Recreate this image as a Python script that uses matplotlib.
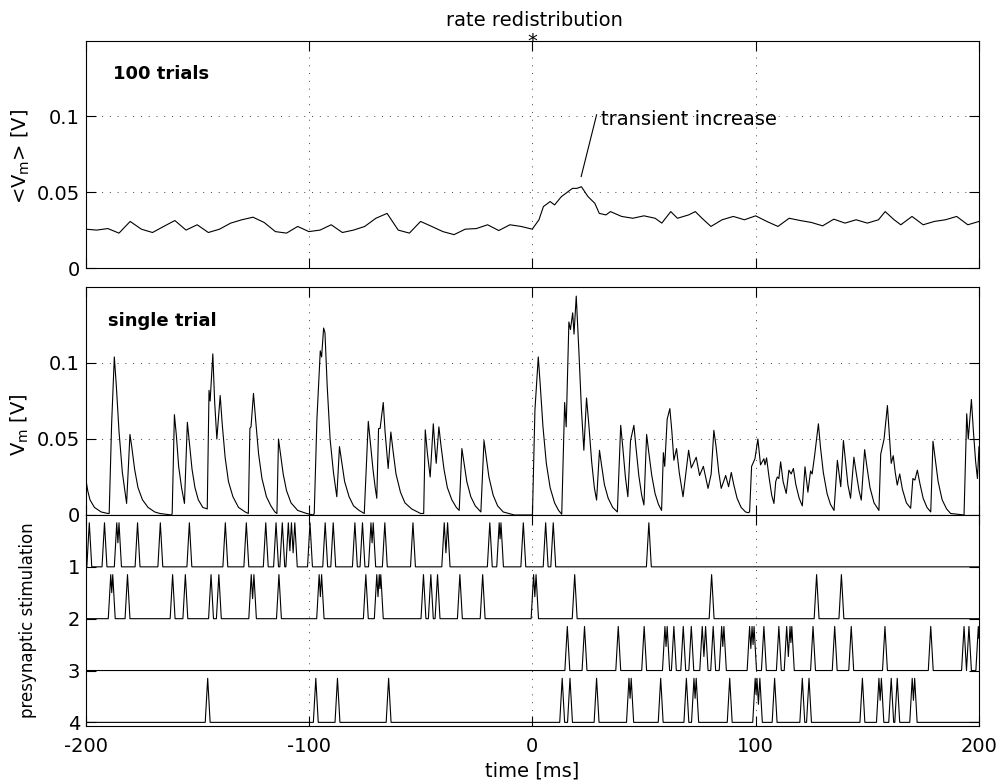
import numpy as np
import matplotlib
matplotlib.use('Agg')
import matplotlib.pyplot as plt

plt.rcParams['font.family'] = ['DejaVu Sans']
plt.rcParams['axes.unicode_minus'] = False

# ---------------- data ----------------
# 100-trial average membrane potential (time [ms], value [V])
avg_t = [-200, -195, -190, -185, -180, -175, -170, -165, -160, -155,
         -150, -145, -140, -135, -130, -125, -120, -115, -110, -105,
         -100, -95, -90, -85, -80, -75, -70, -65, -60, -55,
         -50, -45, -40, -35, -30, -25, -20, -15, -10, -5,
         0, 3, 5, 8, 10, 13, 15, 18, 20, 22, 25, 28, 30, 33, 35,
         40, 45, 50, 55,
         58, 62, 65, 70, 73, 76, 80,
         85, 90, 95, 100, 105, 110, 115, 120, 125, 130, 135, 140, 145, 150, 155,
         158, 162, 165,
         170, 175, 180, 185, 190, 195, 200]
avg_v = [0.0256, 0.025, 0.026, 0.023, 0.0307, 0.0256, 0.0234, 0.0274, 0.0313, 0.025,
         0.0285, 0.0234, 0.0256, 0.0296, 0.0318, 0.0335, 0.030, 0.024, 0.023, 0.0274,
         0.024, 0.025, 0.0285, 0.0234, 0.025, 0.0274, 0.0328, 0.036, 0.025, 0.023,
         0.0307, 0.0274, 0.024, 0.022, 0.0256, 0.026, 0.0285, 0.0247, 0.0285, 0.0274,
         0.0256, 0.0318, 0.0405, 0.0438, 0.0416, 0.047, 0.0492, 0.0525, 0.0525, 0.0536,
         0.047, 0.0427, 0.036, 0.035, 0.0372,
         0.034, 0.0328, 0.0344, 0.0328,
         0.0296, 0.0372, 0.0328, 0.035, 0.0372, 0.0328, 0.0274,
         0.0318, 0.034, 0.0318, 0.0344, 0.0307, 0.0274, 0.0328, 0.0313, 0.030, 0.0278,
         0.0322, 0.0296, 0.0318, 0.0296, 0.0318,
         0.0372, 0.0318, 0.0285,
         0.034, 0.0285, 0.0307, 0.0318, 0.034, 0.0285, 0.0307]

# single trial membrane potential, vertices (time [ms], value [V])
single_trial = [
    (-200, 0.025), (-199, 0.016), (-198, 0.010), (-196, 0.005), (-193, 0.002), (-190, 0.001),
    (-189.4, 0.001), (-188.3, 0.06), (-187.1, 0.104), (-186.2, 0.085), (-185, 0.055),
    (-183.5, 0.028), (-182.3, 0.015), (-181.6, 0.0076),
    (-180.1, 0.053), (-179.3, 0.045), (-178, 0.030), (-176.5, 0.018), (-174.5, 0.010),
    (-172, 0.005), (-169, 0.002), (-166.7, 0.001), (-161.5, 0.0),
    (-161.2, 0.001), (-160.2, 0.066), (-159.3, 0.052), (-158.3, 0.032), (-157, 0.018), (-155.7, 0.0076),
    (-154.4, 0.061), (-153.5, 0.048), (-152.3, 0.030), (-151, 0.018), (-149.5, 0.010),
    (-147.5, 0.005), (-145.5, 0.004),
    (-144.7, 0.082), (-144.2, 0.075), (-143, 0.106), (-142.2, 0.075), (-141.2, 0.050),
    (-139.7, 0.0786), (-138.8, 0.060), (-137.5, 0.038), (-136, 0.022), (-134, 0.012),
    (-131.5, 0.005), (-128.5, 0.002), (-127.1, 0.001),
    (-126.4, 0.057), (-125.9, 0.058), (-124.8, 0.080), (-123.8, 0.062), (-122.5, 0.040),
    (-121, 0.024), (-119, 0.012), (-117, 0.006), (-115.2, 0.002), (-114.3, 0.001),
    (-113.6, 0.050), (-112.7, 0.040), (-111.5, 0.027), (-110, 0.016), (-108, 0.008),
    (-105, 0.003), (-101, 0.001), (-98, 0.0),
    (-97.6, 0.001), (-96.4, 0.063), (-94.9, 0.108), (-94.3, 0.104), (-93.4, 0.123),
    (-92.8, 0.120), (-91.8, 0.085), (-90.5, 0.050), (-89, 0.028), (-87.5, 0.012),
    (-86.3, 0.045), (-85.3, 0.035), (-84, 0.022), (-82, 0.012), (-80, 0.006),
    (-77.5, 0.003), (-75.2, 0.001),
    (-73.4, 0.0616), (-72.5, 0.048), (-71.3, 0.030), (-70.3, 0.018), (-69.6, 0.011),
    (-68.8, 0.0568), (-68.1, 0.057), (-66.7, 0.074), (-65.9, 0.055), (-64.5, 0.0306),
    (-63.3, 0.0546), (-62.3, 0.042), (-61, 0.027), (-59, 0.015), (-57, 0.008),
    (-54, 0.004), (-50, 0.001), (-48.6, 0.001),
    (-47.9, 0.056), (-46.9, 0.040), (-45.7, 0.025), (-44.3, 0.060), (-43.6, 0.045),
    (-43, 0.034), (-41.8, 0.058), (-40.8, 0.045), (-39.5, 0.030), (-38, 0.018),
    (-36, 0.010), (-34, 0.005), (-32.7, 0.003),
    (-31.5, 0.0437), (-30.6, 0.035), (-29.3, 0.022), (-27.5, 0.012), (-25.5, 0.006), (-23, 0.002),
    (-21.6, 0.049), (-20.7, 0.039), (-19.4, 0.025), (-17.5, 0.013), (-15.5, 0.006),
    (-13, 0.002), (-8, 0.0), (0.0, 0.0),
    (0.1, 0.001), (1.2, 0.069), (2.7, 0.104), (3.6, 0.085), (4.8, 0.058), (6.3, 0.034),
    (8, 0.018), (10, 0.008), (11.8, 0.003), (13.2, 0.0005),
    (14.5, 0.074), (15.2, 0.058), (16.4, 0.127), (17.1, 0.122), (18.1, 0.133), (18.7, 0.119),
    (19.7, 0.144), (20.9, 0.107), (22, 0.070), (23.1, 0.0426), (24.3, 0.077), (25.3, 0.060),
    (26.6, 0.035), (27.8, 0.018), (28.8, 0.0098), (30.1, 0.0426), (31, 0.033), (32.3, 0.020),
    (34, 0.011), (36, 0.005), (38.1, 0.002),
    (39.6, 0.059), (40.5, 0.045), (41.7, 0.025), (42.8, 0.012), (44, 0.049), (45.5, 0.059),
    (46.4, 0.045), (47.7, 0.026), (49, 0.013), (50, 0.0066), (51.2, 0.053), (52.1, 0.042),
    (53.5, 0.026), (55, 0.014), (56.5, 0.007), (57.9, 0.003),
    (58.7, 0.041), (59.3, 0.032), (60.4, 0.063), (61.6, 0.070), (62.5, 0.055), (63.4, 0.036),
    (64.6, 0.0437), (65.8, 0.028), (67.5, 0.012), (70, 0.0426), (71.2, 0.031), (73.4, 0.038),
    (74.9, 0.026), (76.6, 0.032), (78.7, 0.0175), (80.1, 0.027), (81.3, 0.0557), (82.3, 0.045),
    (83.5, 0.028), (84.6, 0.0175), (86.6, 0.026), (87.9, 0.0186), (89.1, 0.028), (90.2, 0.020),
    (91.7, 0.011), (93.5, 0.005), (95.5, 0.002), (96.7, 0.0015),
    (97.3, 0.002), (98.2, 0.032), (99.7, 0.037), (101, 0.050), (102.2, 0.033), (103.7, 0.037),
    (104.2, 0.033), (104.9, 0.0376), (106, 0.025), (107.2, 0.013), (108.2, 0.0076),
    (109, 0.022), (109.7, 0.025), (110.4, 0.024), (111.2, 0.035), (112.3, 0.022),
    (113.7, 0.0142), (114.9, 0.0295), (115.9, 0.027), (116.9, 0.0306), (118, 0.020),
    (119.5, 0.011), (120.9, 0.006), (122.1, 0.0317), (123.4, 0.015), (124.6, 0.029),
    (125.3, 0.027), (126.4, 0.039), (128.1, 0.060), (129, 0.045), (130.3, 0.028),
    (132, 0.014), (133.5, 0.007), (135.1, 0.003),
    (136.6, 0.036), (138.1, 0.0186), (139.3, 0.049), (140.2, 0.036), (141.3, 0.020),
    (142.5, 0.011), (144, 0.038), (145, 0.028), (146.3, 0.016), (147.3, 0.0098),
    (148.8, 0.043), (149.8, 0.032), (151.2, 0.018), (153, 0.008), (155.2, 0.003),
    (156, 0.040), (157.5, 0.050), (159, 0.072), (159.9, 0.052), (160.7, 0.034),
    (161.6, 0.039), (162.5, 0.028), (163.4, 0.0197), (164.5, 0.027), (165.7, 0.017),
    (167.5, 0.008), (169.4, 0.0044), (170.4, 0.024), (171.3, 0.023), (172.4, 0.0295),
    (173.5, 0.021), (175, 0.011), (176.7, 0.005), (178.4, 0.002), (179.4, 0.0485),
    (180.3, 0.038), (181.7, 0.022), (183.5, 0.010), (185.5, 0.004), (187.3, 0.001),
    (193.3, 0.0), (194.5, 0.0666), (195.2, 0.050), (196.6, 0.076), (197.5, 0.055),
    (198.5, 0.035), (199.3, 0.024), (200, 0.045),
]

# presynaptic spike times [ms] for the 4 input channels
spikes_1 = [-198.3, -191.5, -186, -185, -176.7, -166.5, -153.5, -137.4, -128, -119.3,
            -114.7, -111.9, -109.2, -107.8, -106.3, -99.5, -92.7, -89.1, -79.4, -76,
            -72.2, -71.2, -66, -53.4, -39.4, -37.9, -19, -14.8, -14, -4, 6.0, 9.4, 52.2]
spikes_2 = [-188.7, -187.8, -181.2, -161, -155.3, -143.8, -140.3, -125.8, -124.6, -113.4,
            -95.4, -94.3, -74.5, -69.6, -68.5, -67.8, -48.7, -45.4, -42.4, -32.4, -22.2,
            0.6, 1.7, 19.0, 80.3, 127.3, 138.4]
spikes_3 = [15.7, 23.4, 38.5, 50.1, 59.4, 60.4, 63.4, 67.6, 71.2, 76.1, 77.6, 81.0, 84.8,
            85.8, 97.3, 98.4, 99.3, 103.7, 110.4, 113.9, 115.4, 116.2, 125.7, 135.4, 142.8,
            157.9, 178.4, 193.3, 195.5, 199.7]
spikes_4 = [-145.3, -96.9, -87.2, -64.3, 13.4, 16.9, 28.8, 43.3, 44.3, 57.5, 69.0, 72.4,
            73.4, 88.4, 99.8, 100.6, 101.9, 108.5, 120.9, 123.9, 147.8, 155.2, 156.3,
            160.7, 163.4, 170.1, 171.2]
spike_rows = [spikes_1, spikes_2, spikes_3, spikes_4]

x_ticks = [-200, -100, 0, 100, 200]
vm_ticks = [0, 0.05, 0.1]
row_ticks = [1, 2, 3, 4]

# ---------------- figure ----------------
W, H = 997, 783
fig = plt.figure(figsize=(W / 100, H / 100), dpi=100)

def fax(left, top, right, bottom):
    return fig.add_axes([left / W, 1 - bottom / H, (right - left) / W, (bottom - top) / H])

ax1 = fax(85.5, 40.5, 979, 268)
ax2 = fax(85.5, 287, 979, 515)
ax3 = fax(85.5, 515, 979, 726)

grid_kw = dict(linestyle=(0, (1, 7)), linewidth=0.7, color='0.25')
for ax in (ax1, ax2, ax3):
    ax.set_xlim(-200, 200)
    ax.set_xticks(x_ticks)
    ax.tick_params(direction='in', length=7, width=0.8, top=True, right=True,
                   labelsize=14, pad=4)
    ax.tick_params(axis='x', pad=8)
    for s in ax.spines.values():
        s.set_linewidth(0.8)

for ax in (ax1, ax2):
    ax.set_ylim(0, 0.15)
    ax.set_yticks(vm_ticks)
    ax.set_yticklabels(['0', '0.05', '0.1'])
    ax.tick_params(labelbottom=False)
    ax.grid(True, **grid_kw)

# top panel
ax1.plot(avg_t, avg_v, color='k', lw=0.8)
ax1.text(0.0304, 0.8295, '100 trials', transform=ax1.transAxes, fontsize=13,
         fontweight='bold', va='baseline', ha='left')
ax1.set_ylabel(r'<V$_\mathrm{m}$> [V]', fontsize=14)
ax1.yaxis.set_label_coords(-0.0722, 0.492)
ax1.yaxis.label.set_va('center')
ax1.text(30.6, 0.0944, 'transient increase', fontsize=14, ha='left', va='baseline')
ax1.plot([28.8, 21.9], [0.101, 0.0603], color='k', lw=0.8)
ax1.text(0, 0.9705, '*', transform=ax1.get_xaxis_transform(), fontsize=14,
         ha='center', va='baseline', clip_on=False)
ax1.text(1, 1.0637, 'rate redistribution', transform=ax1.get_xaxis_transform(),
         fontsize=14, ha='center', va='baseline')

# middle panel
st = np.array(single_trial)
ax2.plot(st[:, 0], st[:, 1], color='k', lw=0.8)
ax2.text(0.0255, 0.830, 'single trial', transform=ax2.transAxes, fontsize=13,
         fontweight='bold', va='baseline', ha='left')
ax2.set_ylabel(r'V$_\mathrm{m}$ [V]', fontsize=14)
ax2.yaxis.set_label_coords(-0.0733, 0.395)
ax2.yaxis.label.set_va('center')

# raster panel
tgrid = np.linspace(-200, 200, 8001)
for row, spikes in enumerate(spike_rows, start=1):
    pulse = np.zeros_like(tgrid)
    for t in spikes:
        pulse = np.maximum(pulse, np.interp(tgrid, [t - 1.1, t, t + 1.1], [0, 1, 0],
                                            left=0, right=0))
    ax3.plot(tgrid, row - 0.85 * pulse, color='k', lw=0.8)
ax3.set_ylim(4.07, 0)
ax3.set_yticks(row_ticks)
ax3.grid(True, axis='x', **grid_kw)
ax3.set_ylabel('presynaptic stimulation', fontsize=12)
ax3.yaxis.set_label_coords(-0.0644, 0.502)
ax3.yaxis.label.set_va('center')
ax3.set_xlabel('time [ms]', fontsize=14)
ax3.xaxis.set_label_coords(0.5, -0.17)
ax3.xaxis.label.set_va('top')

fig.savefig('out.png', dpi=100)
